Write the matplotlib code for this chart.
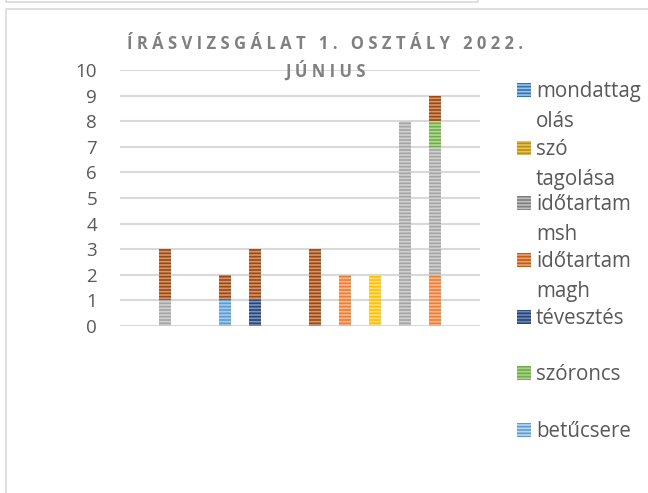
import numpy as np
import matplotlib.pyplot as plt
from matplotlib.patches import Rectangle
from matplotlib.lines import Line2D

plt.rcParams['font.family'] = ['Open Sans', 'DejaVu Sans']
plt.rcParams['hatch.linewidth'] = 1.2

# 12 categories on the x axis, no labels shown
categories = [""] * 12

# stacked series (bottom -> top), bar colour and legend colour
series_names = ["mondattagolás", "szó tagolása", "időtartam msh", "betűcsere",
                "tévesztés", "szóroncs", "időtartam magh"]
mondattagolas = [0, 0, 0, 0, 0, 0, 0, 2, 0, 0, 2, 0]
szo_tagolasa  = [0, 0, 0, 0, 0, 0, 0, 0, 2, 0, 0, 0]
ido_msh       = [0, 1, 0, 0, 0, 0, 0, 0, 0, 8, 5, 0]
betucsere     = [0, 0, 0, 1, 0, 0, 0, 0, 0, 0, 0, 0]
tevesztes     = [0, 0, 0, 0, 1, 0, 0, 0, 0, 0, 0, 0]
szoroncs      = [0, 0, 0, 0, 0, 0, 0, 0, 0, 0, 1, 0]
ido_magh      = [0, 2, 0, 1, 2, 0, 3, 0, 0, 0, 1, 0]
series_values = [mondattagolas, szo_tagolasa, ido_msh, betucsere,
                 tevesztes, szoroncs, ido_magh]
bar_colors = ["#ED7D31", "#FFC000", "#A5A5A5", "#5B9BD5", "#264478", "#70AD47", "#9E480E"]
stripe_colors = ["#F7B993", "#FFDD80", "#D0D0D0", "#A9CBEA", "#7F93BE", "#B5D89C", "#D29672"]

# legend (order and colours as shown in the picture)
legend_labels = ["mondattag\nolás", "szó\ntagolása", "időtartam\nmsh", "időtartam\nmagh",
                 "tévesztés", "szóroncs", "betűcsere"]
legend_colors = ["#2E75B6", "#BF9000", "#7F7F7F", "#C55A11", "#264478", "#70AD47", "#5B9BD5"]
legend_stripes = ["#9DC3E6", "#E2C26A", "#BFBFBF", "#E8A27A", "#6F86B5", "#A9D18E", "#BDD7EE"]

title = "Í R Á S V I Z S G Á L A T   1 .   O S Z T Á L Y   2 0 2 2 .\nJ Ú N I U S"

fig = plt.figure(figsize=(6.48, 4.93), dpi=100)
W, H = 648, 493

# outer chart borders
fig.add_artist(Line2D([6 / W, 6 / W, 478 / W, 478 / W], [1, 1 - 2 / H, 1 - 2 / H, 1],
                      color="#D9D9D9", lw=1.2, transform=fig.transFigure))
fig.add_artist(Line2D([6 / W, 6 / W, 1], [0, 1 - 9 / H, 1 - 9 / H],
                      color="#D9D9D9", lw=1.2, transform=fig.transFigure))

ax = fig.add_axes([120 / W, 1 - 326 / H, 360 / W, 256 / H])
x = np.arange(len(categories))
bottom = np.zeros(len(categories))
for vals, fc, sc in zip(series_values, bar_colors, stripe_colors):
    vals = np.array(vals, dtype=float)
    ax.bar(x, vals, 0.42, bottom=bottom, color=fc, edgecolor=sc, linewidth=0,
           hatch="-----", zorder=3)
    bottom += vals

ax.set_xlim(-0.5, len(categories) - 0.5)
ax.set_ylim(0, 10)
ax.set_yticks(range(0, 11))
ax.set_xticks([])
ax.grid(axis="y", color="#D9D9D9", lw=1.5, zorder=0)
for s in ax.spines.values():
    s.set_visible(False)
ax.tick_params(axis="y", length=0, pad=16.5, labelsize=13.5, labelcolor="#595959")

fig.text(325 / W, 1 - 58 / H, title, ha="center", va="center", fontsize=12,
         fontweight="bold", color="#808080", linespacing=1.45)

# legend drawn manually to keep the wrapped look
legend_y = [90, 148, 203, 260, 317, 373, 430]
for lab, fc, sc, yy in zip(legend_labels, legend_colors, legend_stripes, legend_y):
    fig.add_artist(Rectangle((517 / W, 1 - (yy + 7) / H), 14 / W, 14 / H, facecolor=fc,
                             edgecolor=sc, linewidth=0, hatch="-----",
                             transform=fig.transFigure))
    fig.text(536 / W, 1 - (yy - 9) / H, lab, ha="left", va="top", fontsize=14.8,
             color="#595959", linespacing=1.58)

fig.savefig("out.png", dpi=100)
